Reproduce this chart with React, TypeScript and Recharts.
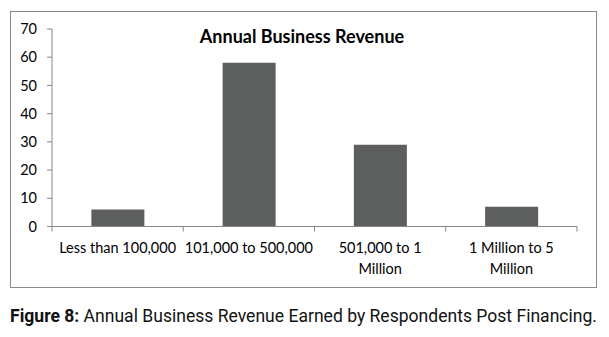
import React from "react";
import { BarChart, Bar, XAxis, YAxis } from "recharts";

const categories = [
  "Less than 100,000",
  "101,000 to 500,000",
  "501,000 to 1 Million",
  "1 Million to 5 Million",
];
const categoryLines = [
  ["Less than 100,000"],
  ["101,000 to 500,000"],
  ["501,000 to 1", "Million"],
  ["1 Million to 5", "Million"],
];
const values = [6, 58, 29, 7];
const yTicks = [0, 10, 20, 30, 40, 50, 60, 70];

const data = categories.map((c, i) => ({ name: c, value: values[i] }));

const CHART_W = 609;
const CHART_H = 300;
const MARGIN = { top: 29, right: 32, left: 0, bottom: 13.5 };
const Y_W = 52;
const PLOT_W = CHART_W - MARGIN.left - MARGIN.right - Y_W;
const BAND = PLOT_W / categories.length;
const AXIS_COLOR = "#868686";
const FONT = "Lato, 'Open Sans', sans-serif";

const XTick = (props: any) => {
  const { x, y, index, payload } = props;
  const idx = categories.indexOf(payload.value);
  const lines = categoryLines[idx >= 0 ? idx : index] || [payload.value];
  return (
    <g>
      <line x1={x - BAND / 2} x2={x - BAND / 2} y1={y} y2={y + 5} stroke={AXIS_COLOR} />
      {index === categories.length - 1 && (
        <line x1={x + BAND / 2} x2={x + BAND / 2} y1={y} y2={y + 5} stroke={AXIS_COLOR} />
      )}
      {lines.map((l: string, i: number) => (
        <text
          key={i}
          x={x}
          y={y + 26 + i * 21}
          textAnchor="middle"
          fontSize={14.5}
          fontFamily={FONT}
          fill="#000"
        >
          {l}
        </text>
      ))}
    </g>
  );
};

export default function App() {
  return (
    <div style={{ position: "relative", width: 609, height: 337, margin: -8, background: "#fff" }}>
      <div
        style={{
          position: "absolute",
          left: 10,
          top: 11,
          width: 587,
          height: 277,
          border: "1px solid #8a8a8a",
          boxSizing: "border-box",
        }}
      />
      <div style={{ position: "absolute", left: 0, top: 0 }}>
        <BarChart width={CHART_W} height={CHART_H} data={data} margin={MARGIN} barCategoryGap="30%">
          <YAxis
            width={Y_W}
            domain={[0, 70]}
            ticks={yTicks}
            interval={0}
            axisLine={{ stroke: AXIS_COLOR }}
            tickLine={{ stroke: AXIS_COLOR }}
            tickSize={5}
            tickMargin={10}
            tick={{ fontSize: 14.5, fontFamily: FONT, fill: "#000" }}
          />
          <XAxis
            dataKey="name"
            height={60}
            interval={0}
            axisLine={{ stroke: AXIS_COLOR }}
            tickLine={false}
            tickSize={0}
            tickMargin={0}
            tick={<XTick />}
          />
          <Bar dataKey="value" fill="#5d5e5e" isAnimationActive={false} />
        </BarChart>
      </div>
      <div
        style={{
          position: "absolute",
          left: 152,
          top: 25,
          width: 300,
          textAlign: "center",
          fontFamily: FONT,
          fontWeight: 700,
          fontSize: 18,
          lineHeight: "22px",
          color: "#000",
          whiteSpace: "nowrap",
        }}
      >
        Annual Business Revenue
      </div>
      <svg style={{ position: "absolute", left: 0, top: 292 }} width={609} height={44}>
        <text
          x={10}
          y={30}
          fontFamily="Roboto, sans-serif"
          fontSize={19}
          fill="#111"
          textLength={587}
          lengthAdjust="spacingAndGlyphs"
        >
          <tspan fontWeight={700}>Figure 8:</tspan>
          <tspan> Annual Business Revenue Earned by Respondents Post Financing.</tspan>
        </text>
      </svg>
    </div>
  );
}
